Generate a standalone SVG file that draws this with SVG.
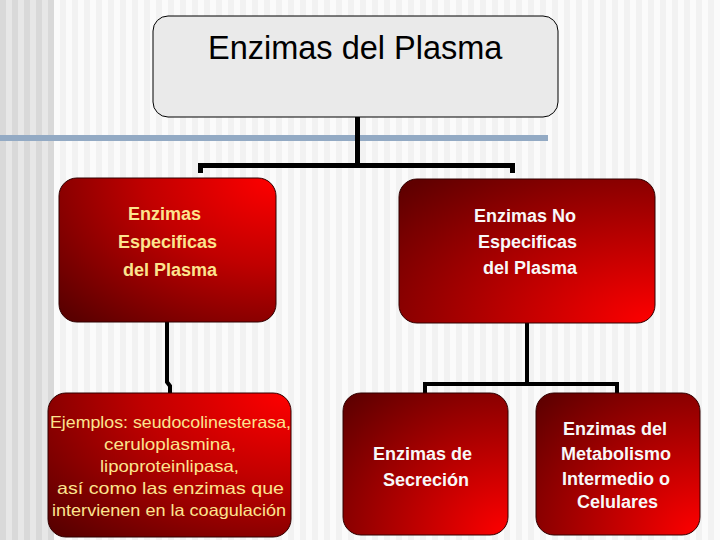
<svg xmlns="http://www.w3.org/2000/svg" width="720" height="540" viewBox="0 0 720 540">
  <defs>
    <pattern id="stripesLight" width="12" height="10" patternUnits="userSpaceOnUse">
      <rect x="0" y="0" width="6" height="10" fill="#f2f2f2"/>
      <rect x="6" y="0" width="6" height="10" fill="#fbfbfb"/>
    </pattern>
    <pattern id="stripesDark" width="12" height="10" patternUnits="userSpaceOnUse">
      <rect x="0" y="0" width="6" height="10" fill="#d9d9d9"/>
      <rect x="6" y="0" width="6" height="10" fill="#e7e7e7"/>
    </pattern>
    <radialGradient id="gradTR" cx="1" cy="0" r="1.35" fx="1" fy="0">
      <stop offset="0" stop-color="#ff0000"/>
      <stop offset="0.45" stop-color="#c00000"/>
      <stop offset="1" stop-color="#5a0000"/>
    </radialGradient>
    <radialGradient id="gradBR" cx="1" cy="1" r="1.35" fx="1" fy="1">
      <stop offset="0" stop-color="#ff0000"/>
      <stop offset="0.45" stop-color="#b80000"/>
      <stop offset="1" stop-color="#600000"/>
    </radialGradient>
    <style>
      .box { stroke: #300000; stroke-width: 1; }
      .conn { fill: none; stroke: #000000; stroke-linejoin: miter; stroke-linecap: butt; }
      .bold { font-family: "Liberation Sans", Arial, sans-serif; font-weight: bold; font-size: 18px; }
      .yellow { fill: #fce48e; }
      .white { fill: #f8f8f8; }
      .ex { font-family: "Liberation Sans", Arial, sans-serif; font-size: 16.5px; fill: #fce48e; text-anchor: middle; }
    </style>
  </defs>

  <!-- background -->
  <rect x="0" y="0" width="720" height="540" fill="url(#stripesLight)"/>
  <rect x="0" y="0" width="54" height="540" fill="url(#stripesDark)"/>
  <rect x="0" y="135" width="548" height="6" fill="#93aac4"/>

  <!-- connectors -->
  <g id="connectors">
    <path class="conn" stroke-width="5" d="M357.5,117 V165.5"/>
    <path class="conn" stroke-width="5" d="M200.5,173 V165.5 H512.5 V173"/>
    <path class="conn" stroke-width="4" d="M167,322 V382 L170,386 V393"/>
    <path class="conn" stroke-width="4" d="M527,323 V384"/>
    <path class="conn" stroke-width="4" d="M425,393 V384 H617 V393"/>
  </g>

  <g id="node-root">
    <rect x="153" y="16" width="405" height="101" rx="15" fill="#eaeaea" stroke="#000" stroke-width="1"/>
    <text x="208" y="59" font-family="Liberation Sans, Arial, sans-serif" font-size="32.5" fill="#000">Enzimas del Plasma</text>
  </g>

  <g id="node-especificas">
    <rect class="box" x="59" y="178" width="217" height="144" rx="18" fill="url(#gradTR)"/>
    <text class="bold yellow" x="128" y="220">Enzimas</text>
    <text class="bold yellow" x="118" y="248">Especificas</text>
    <text class="bold yellow" x="123" y="276">del Plasma</text>
  </g>

  <g id="node-no-especificas">
    <rect class="box" x="399" y="179" width="256" height="144" rx="18" fill="url(#gradBR)"/>
    <text class="bold white" x="474" y="222">Enzimas No</text>
    <text class="bold white" x="478" y="248">Especificas</text>
    <text class="bold white" x="483" y="274">del Plasma</text>
  </g>

  <g id="node-ejemplos">
    <rect class="box" x="48" y="393" width="243" height="144" rx="18" fill="url(#gradTR)"/>
    <text class="ex" x="170.5" y="428" textLength="241" lengthAdjust="spacingAndGlyphs">Ejemplos: seudocolinesterasa,</text>
    <text class="ex" x="170" y="450" textLength="132" lengthAdjust="spacingAndGlyphs">ceruloplasmina,</text>
    <text class="ex" x="169.5" y="471.5" textLength="139" lengthAdjust="spacingAndGlyphs">lipoproteinlipasa,</text>
    <text class="ex" x="170.5" y="493.5" textLength="227" lengthAdjust="spacingAndGlyphs">así como las enzimas que</text>
    <text class="ex" x="169" y="515.5" textLength="234" lengthAdjust="spacingAndGlyphs">intervienen en la coagulación</text>
  </g>

  <g id="node-secrecion">
    <rect class="box" x="343" y="393" width="165" height="142" rx="18" fill="url(#gradBR)"/>
    <text class="bold white" x="373" y="460">Enzimas de</text>
    <text class="bold white" x="383" y="486">Secreción</text>
  </g>

  <g id="node-metabolismo">
    <rect class="box" x="536" y="393" width="164" height="142" rx="18" fill="url(#gradBR)"/>
    <text class="bold white" x="563" y="435">Enzimas del</text>
    <text class="bold white" x="561" y="460">Metabolismo</text>
    <text class="bold white" x="562" y="485">Intermedio o</text>
    <text class="bold white" x="577" y="508">Celulares</text>
  </g>
</svg>
